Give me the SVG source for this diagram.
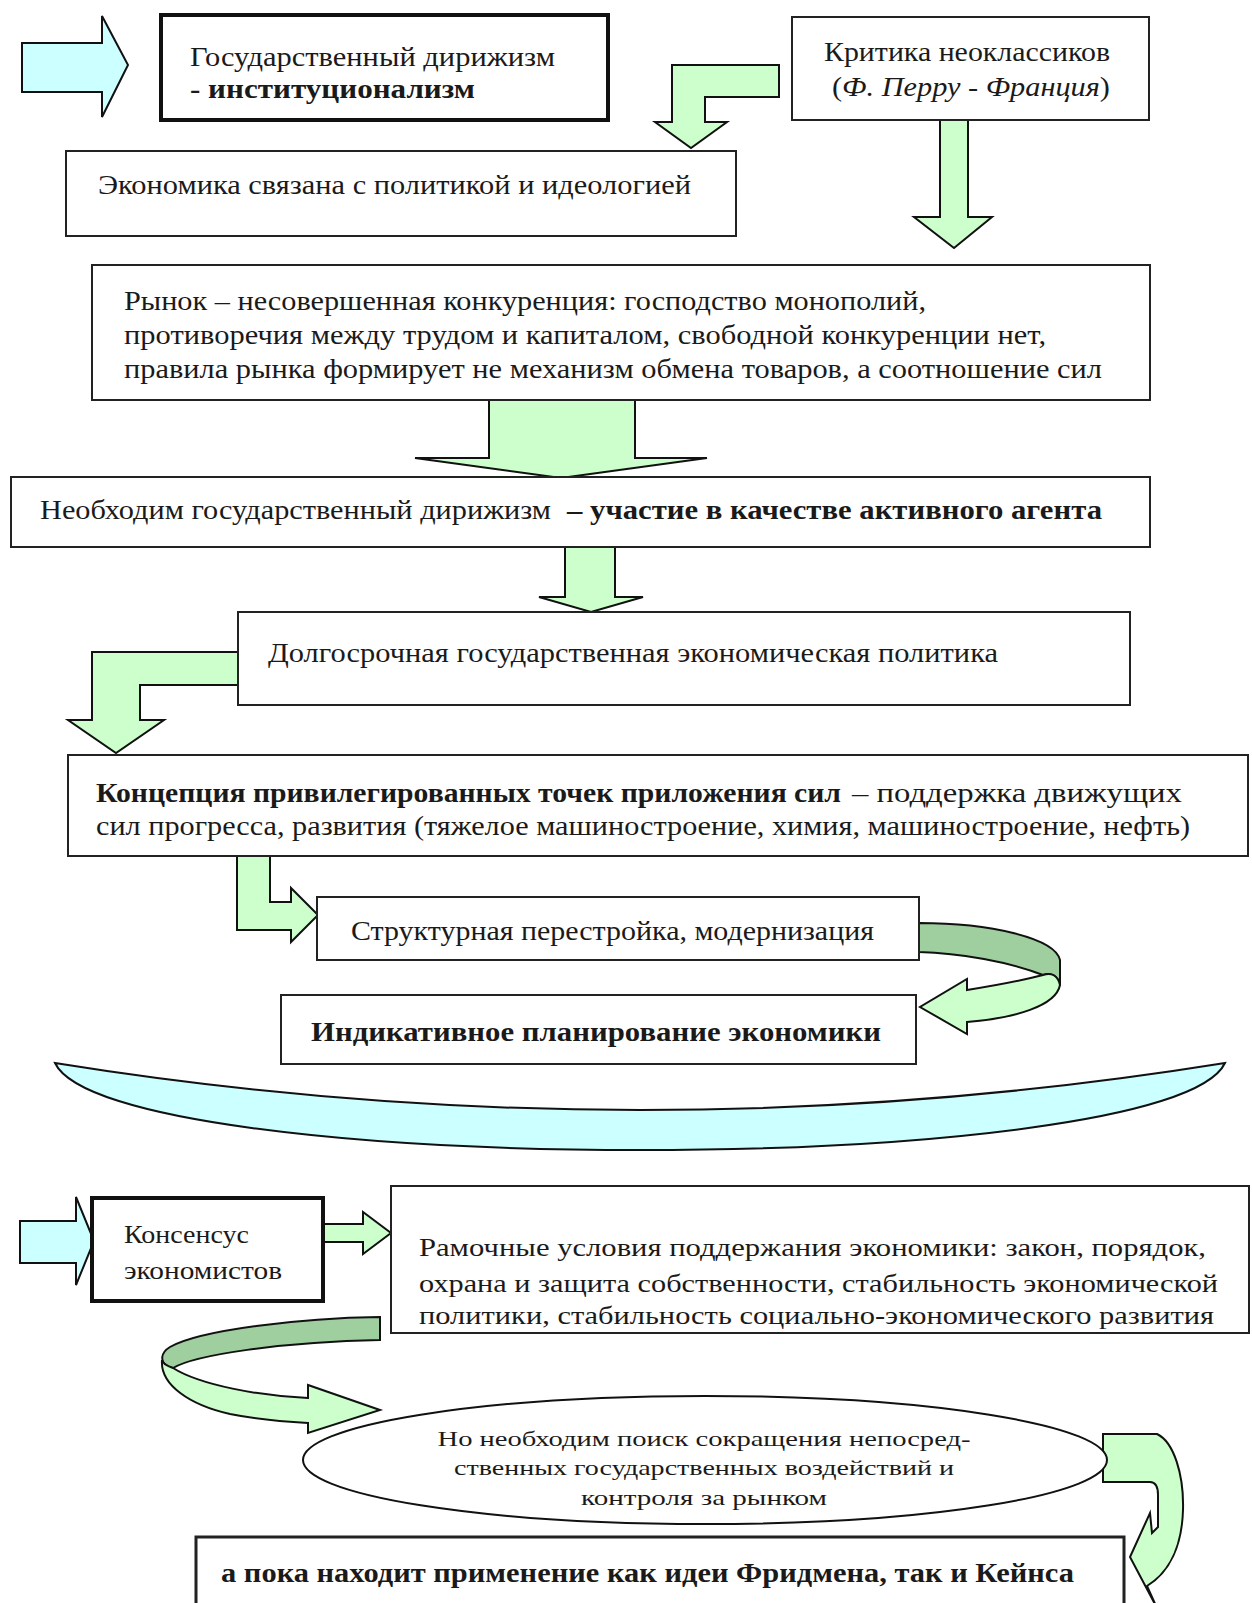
<svg xmlns="http://www.w3.org/2000/svg" width="1252" height="1603" viewBox="0 0 1252 1603">
<style>
.bx{fill:#fff;stroke:#222;stroke-width:2}
.bxt{fill:#fff;stroke:#111;stroke-width:4}
.t{font-family:"Liberation Serif","Times New Roman",serif;fill:#1a1a1a}
.b{font-weight:bold}
.i{font-style:italic}
.cy{fill:#ccffff;stroke:#111;stroke-width:2;stroke-linejoin:miter}
.gr{fill:#ccffcc;stroke:#111;stroke-width:2;stroke-linejoin:miter}
.dg{fill:#9fcf9f;stroke:#111;stroke-width:2}
</style>
<rect width="1252" height="1603" fill="#fff"/>
<g id="connectors">
<path class="cy" d="M22,43 L102,43 L102,16 L128,65 L102,117 L102,92 L22,92 Z"/>
<path class="gr" d="M779,65 L672,65 L672,122 L655,122 L691,148 L727,122 L705,122 L705,97 L779,97 Z"/>
<path class="gr" d="M940,120 L968,120 L968,217 L992,217 L954,248 L914,217 L940,217 Z"/>
<path class="gr" d="M489,400 L635,400 L635,458 L707,458 L561,478 L415,458 L489,458 Z"/>
<path class="gr" d="M565,546 L615,546 L615,597 L643,597 L591,612 L539,597 L565,597 Z"/>
<path class="gr" d="M238,652 L92,652 L92,720 L68,720 L116,753 L164,720 L140,720 L140,685 L238,685 Z"/>
<path class="gr" d="M237,856 L237,930 L291,930 L291,942 L318,915 L291,888 L291,902 L270,902 L270,856 Z"/>
<path class="dg" d="M919,923 C990,923 1055,938 1060,960 L1060,985 C1058,976 1052,972 1043,975 C1010,962 960,953 919,952 Z"/>
<path class="gr" d="M1043,975 C1020,981 992,986 967,990 L967,979 L920,1007 L967,1034 L967,1022 C1015,1018 1056,1006 1060,985 C1058,976 1052,972 1043,975 Z"/>
<path class="cy" d="M55,1063 Q640,1157 1225,1063 C1170,1179 110,1179 55,1063 Z"/>
<path class="cy" d="M20,1221 L76,1221 L76,1197 L94,1241 L76,1285 L76,1263 L20,1263 Z"/>
<path class="gr" d="M323,1224 L363,1224 L363,1212 L391,1233 L363,1254 L363,1242 L323,1242 Z"/>
<path class="dg" d="M380,1317 C300,1318 200,1330 170,1347 C160,1353 160,1362 168,1367 L173,1368 C195,1355 280,1342 380,1340 Z"/>
<path class="gr" d="M162,1360 C160,1385 190,1405 230,1414 C260,1420 290,1422 308,1423 L308,1433 L380,1410 L308,1385 L308,1398 C260,1396 200,1385 173,1368 C165,1365 162,1362 162,1360 Z"/>
<path class="gr" d="M1103,1434 L1157,1434 C1174,1442 1184,1475 1183,1510 C1182,1545 1170,1572 1147,1586 L1157,1608 L1130,1557 L1150,1513 L1152,1533 L1158,1527 L1158,1495 C1158,1488 1156,1482 1150,1482 L1103,1482 Z"/>
</g>
<g id="n-gos">
<rect class="bxt" x="161" y="15" width="447" height="105"/>
<text class="t" x="190" y="66" font-size="28" textLength="365" lengthAdjust="spacingAndGlyphs">Государственный дирижизм</text>
<text class="t b" x="190" y="98" font-size="28" textLength="285" lengthAdjust="spacingAndGlyphs">- институционализм</text>
</g>
<g id="n-kritika">
<rect class="bx" x="792" y="17" width="357" height="103"/>
<text class="t" x="824" y="61" font-size="27" textLength="286" lengthAdjust="spacingAndGlyphs">Критика неоклассиков</text>
<text class="t" x="832" y="96" font-size="27" textLength="278" lengthAdjust="spacingAndGlyphs">(<tspan class="i">Ф. Перру - Франция</tspan>)</text>
</g>
<g id="n-econ">
<rect class="bx" x="66" y="151" width="670" height="85"/>
<text class="t" x="98" y="194" font-size="27" textLength="593" lengthAdjust="spacingAndGlyphs">Экономика связана с политикой и идеологией</text>
</g>
<g id="n-rynok">
<rect class="bx" x="92" y="265" width="1058" height="135"/>
<text class="t" x="124" y="310" font-size="28" textLength="802" lengthAdjust="spacingAndGlyphs">Рынок – несовершенная конкуренция: господство монополий,</text>
<text class="t" x="124" y="344" font-size="28" textLength="922" lengthAdjust="spacingAndGlyphs">противоречия между трудом и капиталом, свободной конкуренции нет,</text>
<text class="t" x="124" y="378" font-size="28" textLength="978" lengthAdjust="spacingAndGlyphs">правила рынка формирует не механизм обмена товаров, а соотношение сил</text>
</g>
<g id="n-neobh">
<rect class="bx" x="11" y="477" width="1139" height="70"/>
<text class="t" x="40" y="519" font-size="28" textLength="511" lengthAdjust="spacingAndGlyphs">Необходим государственный дирижизм</text>
<text class="t b" x="567" y="519" font-size="28" textLength="535" lengthAdjust="spacingAndGlyphs">– участие в качестве активного агента</text>
</g>
<g id="n-dolg">
<rect class="bx" x="238" y="612" width="892" height="93"/>
<text class="t" x="268" y="662" font-size="28" textLength="730" lengthAdjust="spacingAndGlyphs">Долгосрочная государственная экономическая политика</text>
</g>
<g id="n-konc">
<rect class="bx" x="68" y="755" width="1180" height="101"/>
<text class="t b" x="96" y="802" font-size="28" textLength="745" lengthAdjust="spacingAndGlyphs">Концепция привилегированных точек приложения сил</text>
<text class="t" x="852" y="802" font-size="28" textLength="330" lengthAdjust="spacingAndGlyphs">– поддержка движущих</text>
<text class="t" x="96" y="835" font-size="28" textLength="1094" lengthAdjust="spacingAndGlyphs">сил прогресса, развития (тяжелое машиностроение, химия, машиностроение, нефть)</text>
</g>
<g id="n-strukt">
<rect class="bx" x="317" y="897" width="602" height="63"/>
<text class="t" x="351" y="940" font-size="27" textLength="523" lengthAdjust="spacingAndGlyphs">Структурная перестройка, модернизация</text>
</g>
<g id="n-indik">
<rect class="bx" x="281" y="995" width="635" height="69"/>
<text class="t b" x="311" y="1041" font-size="27" textLength="570" lengthAdjust="spacingAndGlyphs">Индикативное планирование экономики</text>
</g>
<g id="n-kons">
<rect class="bxt" x="92" y="1198" width="231" height="103"/>
<text class="t" x="124" y="1243" font-size="26" textLength="125" lengthAdjust="spacingAndGlyphs">Консенсус</text>
<text class="t" x="124" y="1279" font-size="26" textLength="158" lengthAdjust="spacingAndGlyphs">экономистов</text>
</g>
<g id="n-ramoch">
<rect class="bx" x="391" y="1186" width="858" height="147"/>
<text class="t" x="419" y="1256" font-size="26" textLength="787" lengthAdjust="spacingAndGlyphs">Рамочные условия поддержания экономики: закон, порядок,</text>
<text class="t" x="419" y="1292" font-size="26" textLength="799" lengthAdjust="spacingAndGlyphs">охрана и защита собственности, стабильность экономической</text>
<text class="t" x="419" y="1324" font-size="26" textLength="795" lengthAdjust="spacingAndGlyphs">политики, стабильность социально-экономического развития</text>
</g>
<g id="n-ellipse">
<ellipse cx="705" cy="1460" rx="402" ry="64" fill="#fff" stroke="#111" stroke-width="2"/>
<text class="t" x="704" y="1446" font-size="22" text-anchor="middle" textLength="533" lengthAdjust="spacingAndGlyphs">Но необходим поиск сокращения непосред-</text>
<text class="t" x="704" y="1475" font-size="22" text-anchor="middle" textLength="500" lengthAdjust="spacingAndGlyphs">ственных государственных воздействий и</text>
<text class="t" x="704" y="1505" font-size="22" text-anchor="middle" textLength="246" lengthAdjust="spacingAndGlyphs">контроля за рынком</text>
</g>
<g id="n-poka">
<rect x="196" y="1537" width="928" height="90" fill="#fff" stroke="#222" stroke-width="3"/>
<text class="t b" x="221" y="1582" font-size="27" textLength="853" lengthAdjust="spacingAndGlyphs">а пока находит применение как идеи Фридмена, так и Кейнса</text>
</g>
</svg>
